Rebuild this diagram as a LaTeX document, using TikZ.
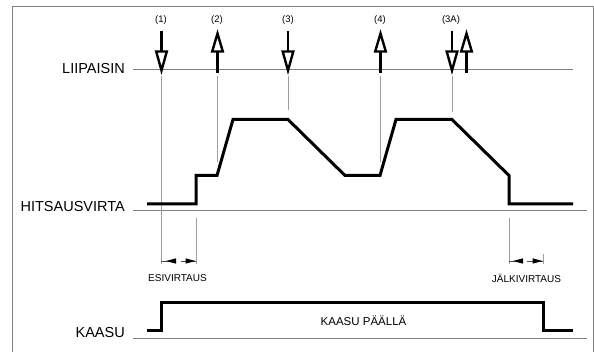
\documentclass[tikz,border=0pt]{standalone}
\usepackage{fontspec}
\setmainfont{Liberation Sans}
\begin{document}
\begin{tikzpicture}[x=1pt,y=-1pt,
  frameline/.style={draw=black!50,line width=0.9pt},
  baseline/.style={draw=black!50,line width=0.9pt},
  guide/.style={draw=black!38,line width=0.8pt},
  wave/.style={draw=black,line width=3pt,line join=miter,line cap=butt},
  sig/.style={draw=black,line width=2.6pt,line join=miter},
  biglabel/.style={font=\fontsize{14.5}{16}\selectfont,anchor=east,inner sep=0pt},
  smalllabel/.style={font=\fontsize{10}{12}\selectfont,inner sep=0pt},
  numlabel/.style={font=\fontsize{9.5}{11}\selectfont,inner sep=0pt},
  dimline/.style={draw=black!70,line width=0.7pt},
  dimhead/.style={fill=black,draw=none},
  downarr/.pic={
    \draw[sig] (0,31) -- (0,51.5);
    \draw[sig,fill=white,line width=2.4pt] (-5.3,51.5) -- (5.3,51.5) -- (0,70.5) -- cycle;
  },
  uparr/.pic={
    \draw[sig] (0,51.5) -- (0,73);
    \draw[sig,fill=white,line width=2.4pt] (-5.3,51.5) -- (5.3,51.5) -- (0,33.5) -- cycle;
  }
]
\useasboundingbox (0,0) rectangle (594,352);
% frame
\draw[frameline] (12,352) -- (12,6) -- (593,6) -- (593,352);

% baselines
\draw[baseline] (133,69) -- (573,69);
\draw[baseline] (133,210.5) -- (587,210.5);
\draw[baseline] (133,338) -- (587,338);

% labels
\node[biglabel] (lii) at (125,69) {LIIPAISIN};
\node[biglabel] (hit) at (125,206.5) {HITSAUSVIRTA};
\node[biglabel] (kaa) at (125,333) {KAASU};

% guide lines
\draw[guide] (161,76) -- (161,264);
\draw[guide] (196,218) -- (196,264);
\draw[guide] (217,76) -- (217,162);
\draw[guide] (288,76) -- (288,110);
\draw[guide] (380,76) -- (380,162);
\draw[guide] (452,76) -- (452,112);
\draw[guide] (509,218) -- (509,264);
\draw[guide] (543,254) -- (543,264);

% trigger arrows
\pic at (161.5,0) {downarr};
\pic at (217.5,0) {uparr};
\pic at (288,0) {downarr};
\pic at (380.5,0) {uparr};
\pic at (452,0) {downarr};
\pic at (466.5,0) {uparr};

\node[numlabel] (n1) at (161,20.5) {(1)};
\node[numlabel] (n2) at (217,20.5) {(2)};
\node[numlabel] (n3) at (288,20.5) {(3)};
\node[numlabel] (n4) at (380,20.5) {(4)};
\node[numlabel] (n3a) at (451,20.5) {(3A)};

% welding current
\draw[wave] (147,204) -- (196,204) -- (196,175.5) -- (217,175.5) -- (233,119.5)
  -- (288,119.5) -- (345,175.5) -- (380,175.5) -- (396,119.5) -- (452,119.5)
  -- (509,175.5) -- (509,204) -- (573,204);

% gas
\draw[wave] (147,331) -- (161,331) -- (161,302.5) -- (543,302.5) -- (543,331) -- (573,331);
\node[font=\fontsize{11.5}{13}\selectfont,inner sep=0pt] (kp) at (363.5,320.5) {KAASU PÄÄLLÄ};

% dimension marks
\draw[dimline] (161,261) -- (176,261);
\fill[dimhead] (166,261) -- (176,258.3) -- (176,263.7) -- cycle;
\draw[dimline] (181,261) -- (196,261);
\fill[dimhead] (195.5,261) -- (185.5,258.3) -- (185.5,263.7) -- cycle;
\node[smalllabel] (esi) at (177.5,278.5) {ESIVIRTAUS};

\draw[dimline] (509,261) -- (523,261);
\fill[dimhead] (513,261) -- (523,258.3) -- (523,263.7) -- cycle;
\draw[dimline] (527,261) -- (543,261);
\fill[dimhead] (542.5,261) -- (532.5,258.3) -- (532.5,263.7) -- cycle;
\node[smalllabel] (jal) at (526.5,278.5) {JÄLKIVIRTAUS};
\end{tikzpicture}
\end{document}
